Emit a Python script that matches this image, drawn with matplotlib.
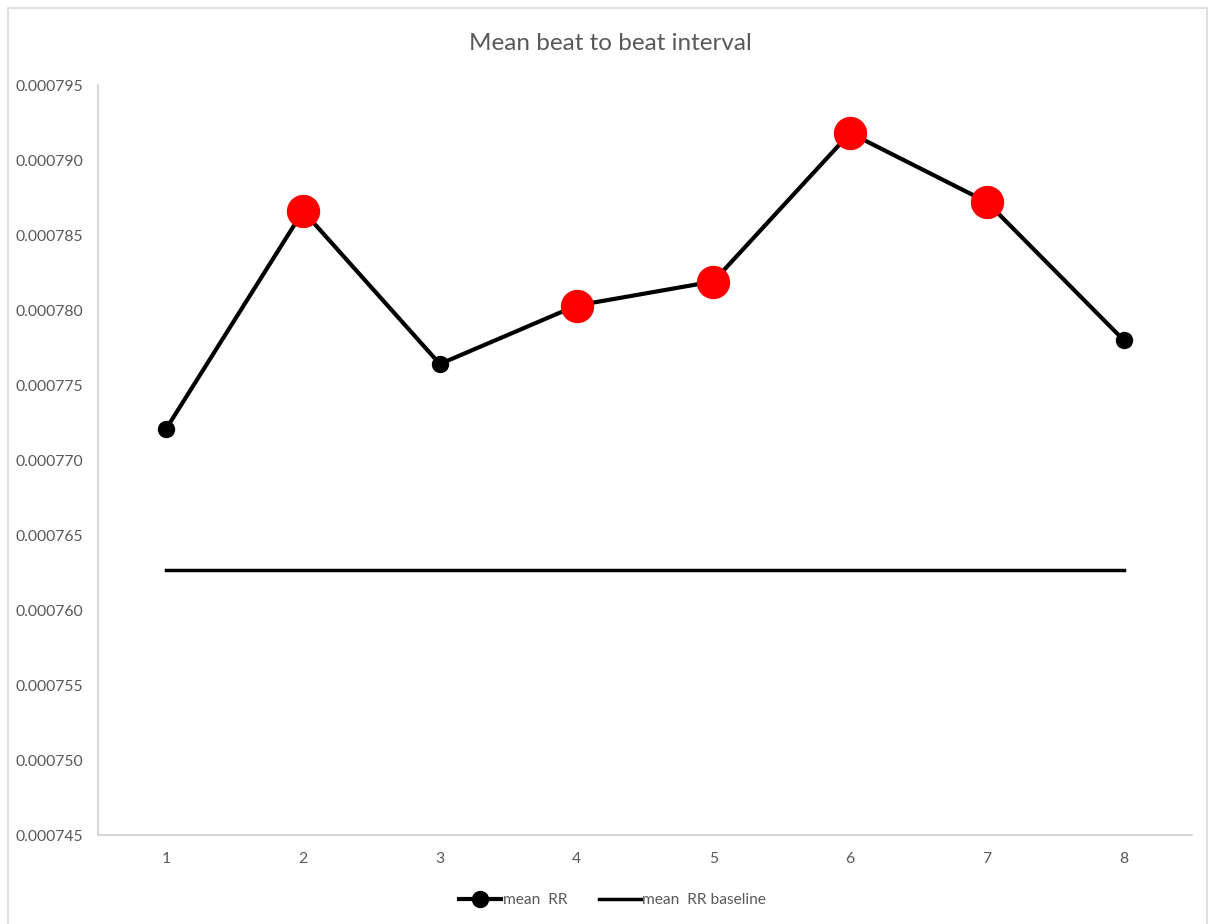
import matplotlib.pyplot as plt
from matplotlib.patches import Rectangle

# mean RR per session
sessions = [1, 2, 3, 4, 5, 6, 7, 8]
mean_rr = [0.0007721, 0.0007866, 0.0007764, 0.0007803, 0.0007819, 0.0007918, 0.0007872, 0.0007780]
baseline = [0.0007627] * 8
# sessions flagged above threshold
flagged = [2, 4, 5, 6, 7]

plt.rcParams['font.family'] = ['Lato', 'DejaVu Sans']
grey = '#595959'

fig = plt.figure(figsize=(12.11, 9.24), dpi=100)
ax = fig.add_axes([0.0809, 0.0963, 0.9034, 0.8117])

ax.plot(sessions, mean_rr, color='black', lw=3, marker='o', ms=11.5,
        label='mean  RR', zorder=3)
ax.plot(sessions, baseline, color='black', lw=2.5, label='mean  RR baseline', zorder=2)

fy = [mean_rr[sessions.index(s)] for s in flagged]
ax.plot(flagged, fy, ls='none', marker='o', ms=23, color='#ff0000', zorder=4)

ax.set_xlim(0.5, 8.5)
ax.set_ylim(0.000745, 0.000795)
ax.set_xticks(sessions)
ax.set_yticks([0.000745 + i * 0.000005 for i in range(11)])
ax.set_yticklabels(['%.6f' % v for v in ax.get_yticks()])
ax.tick_params(length=0, labelsize=11.3, colors=grey)
ax.tick_params(axis='y', pad=10.5)
ax.tick_params(axis='x', pad=12.5)
for s in ['top', 'right']:
    ax.spines[s].set_visible(False)
for s in ['left', 'bottom']:
    ax.spines[s].set_color('#d0d0d0')
    ax.spines[s].set_linewidth(1.2)

fig.text(0.504, 0.953, 'Mean beat to beat interval', fontsize=17.5, color=grey,
         ha='center', va='center')

leg = fig.legend(loc='center', bbox_to_anchor=(0.506, 0.026), ncol=2, frameon=False,
                 fontsize=11.2, handlelength=2.7, handletextpad=0.1, columnspacing=2.0)
for t in leg.get_texts():
    t.set_color(grey)

fig.patches.append(Rectangle((0.007, -0.01), 0.99, 1.001, transform=fig.transFigure,
                             fill=False, edgecolor='#d9d9d9', lw=1.2))

fig.savefig('out.png', dpi=100)
